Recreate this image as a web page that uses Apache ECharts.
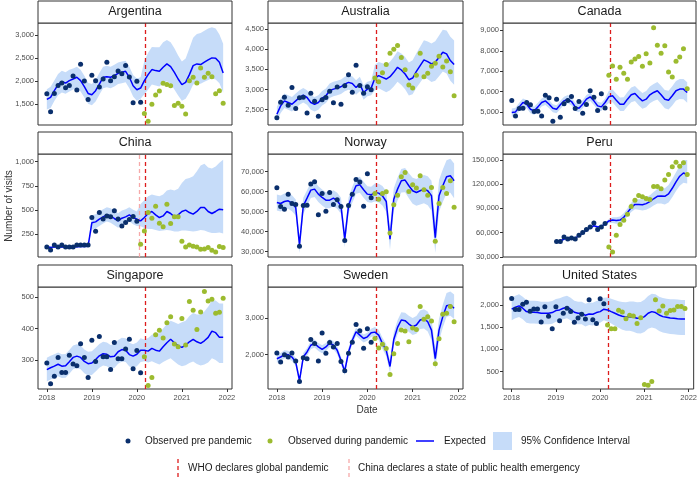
<!DOCTYPE html>
<html><head><meta charset="utf-8">
<script src="https://cdn.jsdelivr.net/npm/echarts@6/dist/echarts.min.js"></script>
<style>html,body{margin:0;padding:0;background:#fff}#c{width:700px;height:477px}</style>
</head><body><div id="c"></div><script>
// ---------------- DATA (monthly, Jan 2018 .. Dec 2021) ----------------
const countries = ['Argentina','Australia','Canada','China','Norway','Peru','Singapore','Sweden','United States'];
const preMonths = [26,26,26,25,26,26,26,26,26]; // number of months observed before the pandemic period
const xTickLabels = [2018,2019,2020,2021,2022];
const whoDeclaration = 2020.191;    // 11 Mar 2020
const chinaDeclaration = 2020.060;  // 23 Jan 2020

const argentinaObserved = [1730,1336,1737,1912,1963,1861,1912,2117,1810,2372,2007,1606,2131,2015,1876,2051,2416,2015,2102,2226,2168,2343,2095,1533,2000,1547,1299,1131,1504,1701,1788,1956,1934,1905,1474,1526,1460,1292,2015,2088,1963,2292,2088,2175,2102,1730,1796,1526];
const argentinaExpected = [1606,1650,1796,1927,1993,1963,2015,2051,2088,2015,1883,1737,1708,1796,1942,2088,2102,2088,2124,2175,2197,2219,2088,1905,1818,1854,2015,2146,2256,2234,2219,2307,2380,2321,2197,2051,1927,1978,2146,2343,2380,2365,2416,2467,2511,2504,2416,2183];
const argentinaLower = [1390,1420,1570,1700,1760,1730,1780,1820,1850,1780,1650,1510,1480,1560,1710,1850,1870,1850,1890,1940,1960,1980,1850,1670,1580,1620,1720,1820,1930,1910,1890,1960,2000,1940,1820,1690,1580,1620,1760,1930,1960,1950,1990,2030,2060,2040,1960,1760];
const argentinaUpper = [1830,1880,2020,2160,2230,2200,2250,2280,2320,2250,2120,1970,1940,2030,2180,2320,2340,2320,2360,2410,2430,2450,2320,2140,2060,2090,2450,2620,2750,2740,2740,2850,2900,2850,2720,2560,2430,2500,2720,2950,3030,3050,3100,3150,3180,3150,3020,2820];
const argentinaTicks = [1500,2000,2500,3000];

const australiaObserved = [2300,2683,2808,2608,3050,2525,2792,2808,2417,2908,2708,2333,2742,2800,2958,2667,3058,2633,3092,3367,2933,3600,3100,2908,3067,2992,3283,3192,3417,3617,3900,4000,4092,3792,3492,3108,3033,3350,3900,3317,3400,3575,3650,3825,3558,3708,3442,2842];
const australiaExpected = [2383,2592,2717,2675,2633,2717,2800,2858,2800,2675,2633,2675,2783,2842,2967,3008,3033,3067,3133,3175,3150,3050,3133,2925,3008,3033,3283,3342,3300,3258,3317,3425,3550,3483,3383,3242,3283,3450,3592,3733,3692,3633,3675,3800,3925,3883,3717,3617];
const australiaLower = [2203,2412,2537,2495,2453,2537,2620,2678,2620,2495,2453,2495,2603,2662,2787,2828,2853,2887,2953,2995,2970,2870,2953,2745,2828,2853,2983,3032,2980,2928,2977,3075,3190,3113,3003,2852,2883,3040,3172,3303,3252,3183,3215,3330,3445,3393,3217,3117];
const australiaUpper = [2563,2772,2897,2855,2813,2897,2980,3038,2980,2855,2813,2855,2963,3022,3147,3188,3213,3247,3313,3355,3330,3230,3313,3105,3188,3213,3613,3682,3650,3618,3687,3805,3950,3893,3803,3672,3723,3900,4062,4223,4192,4143,4195,4340,4485,4463,4307,4217];
const australiaTicks = [2500,3000,3500,4000,4500];

const canadaObserved = [5560,4802,5165,5181,5461,5346,5016,5033,4802,5823,5691,4539,5625,4737,5395,5560,5757,5165,5510,4934,5362,6037,5724,5066,5889,5198,6794,7255,6597,7189,6893,6597,7453,7601,7716,7239,7848,7403,9131,8276,7881,8243,6959,6712,7486,7700,8094,6136];
const canadaExpected = [4967,5000,5247,5461,5379,5132,5049,5247,5461,5543,5379,5181,5132,5346,5543,5625,5510,5247,5181,5379,5625,5741,5543,5296,5247,5461,5741,5790,5576,5379,5379,5625,5839,5905,5708,5543,5625,5839,5955,6037,5839,5625,5576,5790,6037,6119,6119,5955];
const canadaLower = [4767,4800,5047,5261,5179,4932,4849,5047,5261,5343,5179,4981,4932,5146,5343,5425,5310,5047,4981,5179,5425,5541,5343,5096,5047,5261,5441,5480,5256,5049,5039,5275,5479,5535,5328,5153,5225,5429,5535,5607,5399,5175,5116,5320,5557,5629,5619,5455];
const canadaUpper = [5167,5200,5447,5661,5579,5332,5249,5447,5661,5743,5579,5381,5332,5546,5743,5825,5710,5447,5381,5579,5825,5941,5743,5496,5447,5661,6041,6100,5896,5709,5719,5975,6199,6275,6088,5933,6025,6249,6375,6467,6279,6075,6036,6260,6517,6609,6619,6455];
const canadaTicks = [5000,6000,7000,8000,9000];

const chinaObserved = [115,83,135,115,135,115,115,115,135,135,135,135,420,278,472,406,437,427,490,406,333,368,399,430,382,142,281,472,413,538,361,323,559,358,427,427,174,115,135,122,115,90,94,108,80,62,118,108];
const chinaExpected = [108,110,115,113,117,115,113,113,117,120,120,122,365,375,403,427,448,437,410,385,413,427,448,420,403,385,420,462,483,448,420,437,483,462,427,448,483,497,472,455,483,524,524,483,462,483,507,500];
const chinaLower = [96,98,103,101,105,103,101,101,105,108,108,110,295,305,333,357,378,367,340,315,343,357,378,350,333,330,310,300,300,290,280,285,290,285,275,275,285,285,280,275,280,290,285,270,260,260,265,255];
const chinaUpper = [125,122,127,125,129,127,125,125,129,132,132,134,445,455,483,507,528,517,490,465,493,507,528,500,483,560,600,640,660,650,640,660,700,710,700,720,780,820,830,850,900,960,980,940,930,950,990,1020];
const chinaTicks = [250,500,750,1000];

const norwayObserved = [61885,52511,51172,58705,54018,53515,32590,53013,53181,63727,64899,48326,59040,50167,59542,53515,55859,52511,35436,53013,58705,66070,64731,52678,68916,56863,59040,56194,59040,59877,39286,53348,58203,67410,69586,60044,63392,61718,67912,60881,58203,62053,35101,54018,62053,59040,65401,52176];
const norwayExpected = [54520,54018,55022,55357,54185,52009,33260,52846,56696,60714,61216,58705,57031,55692,55692,56696,55357,52846,36106,52846,58370,62890,63392,60881,58705,58370,59542,59207,57868,55022,36106,56194,61216,65401,65736,62890,60379,59542,60379,61216,60379,57868,36943,57868,62890,67410,67912,65401];
const norwayLower = [50520,50018,51022,51357,50185,48009,29260,48846,52696,56714,57216,54705,53031,51692,51692,52696,51357,48846,32106,48846,54370,58890,59392,56881,54705,54370,55042,54507,52968,49922,30806,50694,55516,59501,59636,56590,53879,52842,53479,54116,53079,50368,29243,49968,54790,59110,59412,56701];
const norwayUpper = [58520,58018,59022,59357,58185,56009,37260,56846,60696,64714,65216,62705,61031,59692,59692,60696,59357,56846,40106,56846,62370,66890,67392,64881,62705,62370,64042,63907,62768,60122,41406,61694,66916,71301,71836,69190,66879,66242,67279,68316,67679,65368,44643,65768,70990,75710,76412,74101];
const norwayTicks = [30000,40000,50000,60000,70000];

const peruObserved = [null,null,null,null,null,null,null,null,null,null,null,null,48790,48790,54600,52110,53360,52110,56680,60000,63740,67060,72040,63740,67060,71210,42140,35920,56680,69970,75370,82840,92390,100280,106090,104430,102350,101100,117300,117300,114390,125190,132250,141800,147200,142220,146780,132250];
const peruExpected = [null,null,null,null,null,null,null,null,null,null,null,null,48790,49500,52000,52500,53000,53500,56000,59500,63000,66000,68500,67000,68000,70500,74500,75500,75000,75500,79000,85000,91000,95000,95000,94500,96000,98500,102000,105000,105500,105000,108000,115000,123000,130000,134000,132000];
const peruLower = [null,null,null,null,null,null,null,null,null,null,null,null,47290,48000,50500,51000,51500,52000,54500,58000,61500,64500,67000,65500,66500,69000,72000,72000,71000,71000,74000,80000,85500,89000,88500,87500,88500,90500,93500,96000,96000,95000,97500,104000,111500,118000,122000,121000];
const peruUpper = [null,null,null,null,null,null,null,null,null,null,null,null,50290,51000,53500,54000,54500,55000,57500,61000,64500,67500,70000,68500,69500,72000,77000,79000,79000,80000,84000,90000,97000,101000,101500,101500,103500,106500,110500,114000,115000,115000,119000,126500,135000,143000,150000,150000];
const peruTicks = [30000,60000,90000,120000,150000];

const singaporeObserved = [290,224,248,308,260,260,315,287,281,352,308,244,363,295,375,310,310,269,356,304,304,335,366,272,330,259,310,218,244,380,395,370,419,438,351,342,432,348,487,459,397,453,519,488,494,449,452,497];
const singaporeExpected = [269,275,280,286,280,281,294,308,312,308,295,288,290,301,313,320,318,310,312,326,333,331,317,312,318,331,331,328,337,331,328,342,355,366,355,345,340,347,358,366,358,353,361,372,392,387,372,372];
const singaporeLower = [231,237,242,248,242,243,256,270,274,270,257,250,252,263,275,282,280,272,274,288,295,293,279,274,280,293,296,292,296,290,285,293,300,305,295,285,280,283,290,295,287,282,285,292,305,300,290,290];
const singaporeUpper = [307,313,318,324,318,319,332,346,350,346,333,326,328,339,351,358,356,348,350,364,371,369,355,350,356,369,365,370,380,385,385,400,415,425,420,415,420,425,440,450,445,445,455,470,490,490,480,480];
const singaporeTicks = [300,400,500];

const swedenObserved = [2046,1796,2000,1935,2046,1824,1259,1917,1889,2417,2306,1824,2593,2037,2333,2213,2306,1815,1556,2037,2343,2833,2657,2176,2713,2343,2444,2185,2287,2167,1454,2028,2306,2676,2648,2352,2731,2694,3324,2972,3046,2926,1750,2435,3111,3139,3324,2907];
const swedenExpected = [1889,1935,2009,2000,1935,1796,1287,1935,2074,2259,2306,2213,2148,2213,2324,2259,2120,1843,1546,2074,2398,2630,2537,2444,2491,2602,2620,2537,2306,2120,1676,2417,2750,2954,2935,2843,2769,2815,2954,2981,2907,2676,1889,2676,3046,3343,3370,3278];
const swedenLower = [1779,1825,1899,1890,1825,1686,1177,1825,1964,2149,2196,2103,2038,2103,2214,2149,2010,1733,1436,1964,2288,2520,2427,2334,2381,2492,2490,2397,2156,1960,1506,2237,2560,2754,2725,2623,2539,2575,2704,2721,2637,2396,1599,2376,2746,3043,3070,2978];
const swedenUpper = [1999,2045,2119,2110,2045,1906,1397,2045,2184,2369,2416,2323,2258,2323,2434,2369,2230,1953,1656,2184,2508,2740,2647,2554,2601,2712,2760,2687,2466,2290,1856,2607,2950,3164,3155,3073,3009,3065,3214,3251,3187,2966,2189,2986,3376,3693,3740,3658];
const swedenTicks = [2000,3000];

const usObserved = [2144,1894,1894,2015,2061,1856,1909,1909,1614,1955,1742,1462,1955,1644,1811,1924,1848,1606,1705,1788,1682,2114,1667,1583,2136,2023,1545,1462,1462,1879,1841,1689,1765,1750,1583,1712,205,189,273,2114,1864,1977,1811,1871,1886,1962,1962,1917];
const usExpected = [1902,1947,1977,1924,1848,1833,1833,1826,1811,1811,1811,1826,1871,1886,1924,1947,1902,1833,1811,1811,1765,1795,1788,1826,1848,1902,1886,1848,1811,1773,1742,1727,1735,1727,1697,1697,1735,1811,1848,1826,1773,1735,1720,1705,1697,1689,1682,1682];
const usLower = [1652,1697,1727,1674,1598,1583,1583,1576,1561,1561,1561,1576,1621,1636,1674,1697,1652,1583,1561,1561,1515,1545,1538,1576,1598,1652,1626,1578,1531,1483,1442,1417,1415,1397,1362,1357,1390,1461,1493,1466,1413,1375,1360,1345,1337,1329,1322,1322];
const usUpper = [2162,2207,2237,2184,2108,2093,2093,2086,2071,2071,2071,2086,2131,2146,2184,2207,2162,2093,2071,2071,2025,2055,2048,2086,2108,2162,2166,2138,2111,2083,2062,2057,2075,2077,2057,2067,2115,2201,2248,2236,2183,2155,2140,2125,2127,2119,2112,2112];
const usTicks = [500,1000,1500,2000];

// ---------------- LAYOUT ----------------
const panels = [
  {obs:argentinaObserved, exp:argentinaExpected, lo:argentinaLower, hi:argentinaUpper, ticks:argentinaTicks, yr:[1050,3270]},
  {obs:australiaObserved, exp:australiaExpected, lo:australiaLower, hi:australiaUpper, ticks:australiaTicks, yr:[2117,4650]},
  {obs:canadaObserved, exp:canadaExpected, lo:canadaLower, hi:canadaUpper, ticks:canadaTicks, yr:[4358,9362]},
  {obs:chinaObserved, exp:chinaExpected, lo:chinaLower, hi:chinaUpper, ticks:chinaTicks, yr:[10,1080]},
  {obs:norwayObserved, exp:norwayExpected, lo:norwayLower, hi:norwayUpper, ticks:norwayTicks, yr:[27230,78800]},
  {obs:peruObserved, exp:peruExpected, lo:peruLower, hi:peruUpper, ticks:peruTicks, yr:[29690,157570]},
  {obs:singaporeObserved, exp:singaporeExpected, lo:singaporeLower, hi:singaporeUpper, ticks:singaporeTicks, yr:[207,533]},
  {obs:swedenObserved, exp:swedenExpected, lo:swedenLower, hi:swedenUpper, ticks:swedenTicks, yr:[1056,3861]},
  {obs:usObserved, exp:usExpected, lo:usLower, hi:usUpper, ticks:usTicks, yr:[106,2402]}
];
const colLeft = [38, 268, 503], colWidth = [194, 195, 193];
const rowTop = [23, 154, 287], rowHeight = [102, 103, 102];
const stripH = 22;
const X_MIN = 2017.804, X_MAX = 2022.113;
const monthX = i => 2018 + i / 12;

const C_PRE = '#0a2f6c', C_POST = '#9cbb2f', C_EXP = '#0000ff', C_BAND = '#c6dcf9';
const C_WHO = '#dd1c1c', C_CHINA = '#f6a9a9';
const FONT = 'Liberation Sans, Arial, sans-serif';

const grids = [], xAxes = [], yAxes = [], series = [], graphics = [];
panels.forEach((p, k) => {
  const r = Math.floor(k / 3), c = k % 3;
  const bottomRow = r === 2;
  grids.push({left: colLeft[c], top: rowTop[r], width: colWidth[c], height: rowHeight[r],
    show: true, borderColor: '#333', borderWidth: 1, backgroundColor: 'transparent', containLabel: false});
  xAxes.push({type: 'value', gridIndex: k, min: X_MIN, max: X_MAX, splitLine: {show: false},
    axisLine: {show: false},
    axisTick: {show: bottomRow, length: 3, lineStyle: {color: '#333'}, customValues: xTickLabels},
    axisLabel: {show: bottomRow, customValues: xTickLabels, color: '#4d4d4d', fontSize: 7.5, fontFamily: FONT, margin: 5,
      formatter: v => String(Math.round(v))}});
  yAxes.push({type: 'value', gridIndex: k, min: p.yr[0], max: p.yr[1], splitLine: {show: false},
    axisLine: {show: false},
    axisTick: {show: true, length: 3, lineStyle: {color: '#333'}, customValues: p.ticks},
    axisLabel: {customValues: p.ticks, color: '#4d4d4d', fontSize: 7.5, fontFamily: FONT, margin: 4,
      formatter: v => Math.round(v).toLocaleString('en-US')}});

  const band = [];
  p.lo.forEach((v, i) => { if (v != null) band.push([monthX(i), v, p.hi[i]]); });
  series.push({type: 'custom', xAxisIndex: k, yAxisIndex: k, z: 1, silent: true,
    data: band, encode: {x: 0, y: [1, 2]},
    renderItem: (params, api) => {
      if (params.dataIndex !== 0) return null;
      const pts = [];
      band.forEach(d => pts.push(api.coord([d[0], d[2]])));
      for (let j = band.length - 1; j >= 0; j--) pts.push(api.coord([band[j][0], band[j][1]]));
      return {type: 'polygon', shape: {points: pts}, style: {fill: C_BAND, stroke: null}};
    }});

  const mlData = [{xAxis: whoDeclaration, lineStyle: {color: C_WHO, type: [4, 3], width: 1.3}}];
  if (countries[k] === 'China') mlData.unshift({xAxis: chinaDeclaration, lineStyle: {color: C_CHINA, type: [4, 3], width: 1.3}});

  const expData = [];
  p.exp.forEach((v, i) => { if (v != null) expData.push([monthX(i), v]); });
  series.push({type: 'line', xAxisIndex: k, yAxisIndex: k, z: 3, data: expData, showSymbol: false,
    lineStyle: {color: C_EXP, width: 1.5}, itemStyle: {color: C_EXP}, silent: true,
    markLine: {silent: true, symbol: ['none', 'none'], label: {show: false}, data: mlData, z: 2}});

  const pre = [], post = [];
  p.obs.forEach((v, i) => { if (v == null) return; (i < preMonths[k] ? pre : post).push([monthX(i), v]); });
  series.push({type: 'scatter', xAxisIndex: k, yAxisIndex: k, z: 4, data: pre, symbolSize: 5, itemStyle: {color: C_PRE, opacity: 1}, silent: true});
  series.push({type: 'scatter', xAxisIndex: k, yAxisIndex: k, z: 4, data: post, symbolSize: 5, itemStyle: {color: C_POST, opacity: 1}, silent: true});

  // facet strip
  graphics.push({type: 'rect', shape: {x: colLeft[c], y: rowTop[r] - stripH, width: colWidth[c], height: stripH},
    style: {fill: '#fff', stroke: '#333', lineWidth: 1}, z: 10});
  graphics.push({type: 'text', x: colLeft[c] + colWidth[c] / 2, y: rowTop[r] - stripH / 2, z: 11,
    style: {text: countries[k], fill: '#1a1a1a', font: '12.5px ' + FONT, align: 'center', verticalAlign: 'middle'}});
});

// axis titles
graphics.push({type: 'text', x: 367, y: 410, style: {text: 'Date', fill: '#333', font: '10px ' + FONT, align: 'center', verticalAlign: 'middle'}});
graphics.push({type: 'text', x: 9, y: 206, rotation: Math.PI / 2, style: {text: 'Number of visits', fill: '#333', font: '10px ' + FONT, align: 'center', verticalAlign: 'middle'}});

// legend
const L1 = 441, L2 = 468;
const lt = (x, y, s) => ({type: 'text', x: x, y: y, style: {text: s, fill: '#1a1a1a', font: '10px ' + FONT, align: 'left', verticalAlign: 'middle'}});
graphics.push({type: 'circle', shape: {cx: 128, cy: L1, r: 2.5}, style: {fill: C_PRE}});
graphics.push(lt(145, L1, 'Observed pre pandemic'));
graphics.push({type: 'circle', shape: {cx: 270, cy: L1, r: 2.5}, style: {fill: C_POST}});
graphics.push(lt(288, L1, 'Observed during pandemic'));
graphics.push({type: 'line', shape: {x1: 416, y1: L1, x2: 434, y2: L1}, style: {stroke: C_EXP, lineWidth: 1.5}});
graphics.push(lt(444, L1, 'Expected'));
graphics.push({type: 'rect', shape: {x: 493, y: L1 - 9, width: 19, height: 18}, style: {fill: C_BAND}});
graphics.push(lt(521, L1, '95% Confidence Interval'));
graphics.push({type: 'line', shape: {x1: 178, y1: L2 - 9, x2: 178, y2: L2 + 9}, style: {stroke: C_WHO, lineWidth: 1.3, lineDash: [4, 3]}});
graphics.push(lt(188, L2, 'WHO declares global pandemic'));
graphics.push({type: 'line', shape: {x1: 349, y1: L2 - 9, x2: 349, y2: L2 + 9}, style: {stroke: C_CHINA, lineWidth: 1.3, lineDash: [4, 3]}});
graphics.push(lt(358, L2, 'China declares a state of public health emergency'));

const chart = echarts.init(document.getElementById('c'), null, {renderer: 'canvas'});
chart.setOption({
  animation: false,
  backgroundColor: '#fff',
  grid: grids, xAxis: xAxes, yAxis: yAxes, series: series,
  graphic: {elements: graphics}
});
</script></body></html>
